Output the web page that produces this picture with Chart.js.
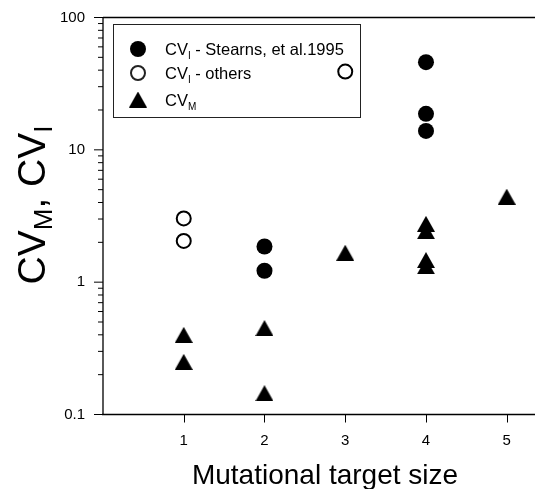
<!DOCTYPE html>
<html><head><meta charset="utf-8">
<script src="https://cdn.jsdelivr.net/npm/chart.js@4.4.1/dist/chart.umd.min.js"></script>
<style>html,body{margin:0;padding:0;background:#fff;overflow:hidden}#wrap{width:535px;height:489px;position:relative}</style>
</head><body><div id="wrap"><canvas id="c" width="535" height="489"></canvas></div>
<script>
// ---- data ----
const xTickValues = [1, 2, 3, 4, 5];
const yTickValues = [0.1, 1, 10, 100];
const stearnsX = [2, 2, 4, 4, 4];
const stearnsY = [1.86, 1.22, 46, 18.7, 13.9];
const othersX = [1, 1, 3];
const othersY = [3.03, 2.05, 39];
const cvmX = [1, 1, 2, 2, 3, 4, 4, 4, 4, 5];
const cvmY = [0.40, 0.25, 0.45, 0.145, 1.67, 2.76, 2.43, 1.47, 1.32, 4.43];
const legendLabels = [
  {main: 'CV', sub: 'I', rest: ' - Stearns, et al.1995'},
  {main: 'CV', sub: 'I', rest: ' - others'},
  {main: 'CV', sub: 'M', rest: ''}
];
const xTitle = 'Mutational target size';
const yTitleParts = [{t: 'CV', sub: false}, {t: 'M', sub: true}, {t: ', CV', sub: false}, {t: 'I', sub: true}];

const FONT = '"Liberation Sans", Arial, Helvetica, sans-serif';
Chart.defaults.font.family = FONT;

function toPoints(xs, ys) { return xs.map((x, i) => ({x: x, y: ys[i]})); }

// triangle marker
const tri = document.createElement('canvas');
tri.width = 18; tri.height = 16;
(function () {
  const c = tri.getContext('2d');
  c.fillStyle = '#000';
  c.beginPath(); c.moveTo(0, 16); c.lineTo(9, 0); c.lineTo(18, 16); c.closePath(); c.fill();
})();

function drawSubText(ctx, parts, x, y, big, small, drop) {
  let cx = x;
  parts.forEach(p => {
    ctx.font = (p.sub ? small : big) + 'px ' + FONT;
    ctx.fillText(p.t, cx, y + (p.sub ? drop : 0));
    cx += ctx.measureText(p.t).width;
  });
  return cx - x;
}
function measureSubText(ctx, parts, big, small) {
  let w = 0;
  parts.forEach(p => { ctx.font = (p.sub ? small : big) + 'px ' + FONT; w += ctx.measureText(p.t).width; });
  return w;
}

const decor = {
  id: 'decor',
  beforeDatasetsDraw(chart) {
    const ctx = chart.ctx, a = chart.chartArea;
    const xs = chart.scales.x, ys = chart.scales.y;
    ctx.save();
    // legend box
    const L = {l: 113.5, t: 24.5, r: 360.5, b: 117.5};
    ctx.fillStyle = '#fff';
    ctx.fillRect(L.l, L.t, L.r - L.l, L.b - L.t);
    ctx.strokeStyle = '#222'; ctx.lineWidth = 1;
    ctx.strokeRect(L.l, L.t, L.r - L.l, L.b - L.t);
    const rows = [49, 73, 99.5];
    ctx.fillStyle = '#000';
    ctx.beginPath(); ctx.arc(138, rows[0], 8, 0, Math.PI * 2); ctx.fill();
    ctx.beginPath(); ctx.arc(138, rows[1], 7, 0, Math.PI * 2); ctx.lineWidth = 2; ctx.stroke();
    ctx.drawImage(tri, 138 - 9, rows[2] - 8);
    ctx.textBaseline = 'alphabetic'; ctx.textAlign = 'left';
    legendLabels.forEach((lab, i) => {
      const base = rows[i] + 6;
      drawSubText(ctx, [{t: lab.main}, {t: lab.sub, sub: true}, {t: lab.rest}], 165, base, 16.5, 10, 4);
    });
    // axes lines
    ctx.strokeStyle = '#000'; ctx.lineWidth = 1.3;
    ctx.beginPath();
    ctx.moveTo(a.left, a.top); ctx.lineTo(a.right, a.top);
    ctx.moveTo(a.left, a.top); ctx.lineTo(a.left, a.bottom);
    ctx.moveTo(a.left - 1, a.bottom); ctx.lineTo(a.right, a.bottom);
    ctx.stroke();
    // ticks
    ctx.lineWidth = 1;
    ctx.beginPath();
    for (let d = -1; d <= 2; d++) {
      const p = Math.pow(10, d);
      const py = ys.getPixelForValue(p);
      ctx.moveTo(a.left - 9, py); ctx.lineTo(a.left, py);
      if (d < 2) {
        for (let m = 2; m <= 9; m++) {
          const my = ys.getPixelForValue(m * p);
          ctx.moveTo(a.left - 5, my); ctx.lineTo(a.left, my);
        }
      }
    }
    xTickValues.forEach(v => {
      const px = Math.round(xs.getPixelForValue(v)) + 0.5;
      ctx.moveTo(px, a.bottom); ctx.lineTo(px, a.bottom + 8);
    });
    ctx.stroke();
    ctx.restore();
  },
  afterDraw(chart) {
    const ctx = chart.ctx;
    ctx.save();
    ctx.fillStyle = '#000';
    ctx.textBaseline = 'alphabetic';
    ctx.textAlign = 'center';
    ctx.font = '28px ' + FONT;
    ctx.fillText(xTitle, 325, 484);
    // y title rotated
    ctx.translate(45, 205);
    ctx.rotate(-Math.PI / 2);
    ctx.textAlign = 'left';
    const big = 39, small = 26;
    const w = measureSubText(ctx, yTitleParts, big, small);
    drawSubText(ctx, yTitleParts, -w / 2, 0, big, small, 7);
    ctx.restore();
  }
};

new Chart(document.getElementById('c'), {
  type: 'scatter',
  data: {
    datasets: [
      {label: 'CVI - Stearns, et al.1995', data: toPoints(stearnsX, stearnsY), pointStyle: 'circle', pointRadius: 8, pointHoverRadius: 8, backgroundColor: '#000', borderColor: '#000', borderWidth: 0},
      {label: 'CVI - others', data: toPoints(othersX, othersY), pointStyle: 'circle', pointRadius: 7, pointHoverRadius: 7, backgroundColor: '#fff', borderColor: '#000', borderWidth: 2},
      {label: 'CVM', data: toPoints(cvmX, cvmY), pointStyle: tri, pointRadius: 9, backgroundColor: '#000', borderColor: '#000'}
    ]
  },
  options: {
    responsive: false,
    animation: false,
    devicePixelRatio: 1,
    layout: {autoPadding: false, padding: {top: 17.5, left: 0, right: 0, bottom: 0}},
    plugins: {legend: {display: false}, tooltip: {enabled: false}},
    scales: {
      x: {
        type: 'linear', min: 0, max: 5.35,
        grid: {display: false, drawTicks: true, tickLength: 15},
        border: {display: false},
        afterBuildTicks(s) { s.ticks = xTickValues.map(v => ({value: v})); },
        afterFit(s) { s.height = 74.5; s.paddingLeft = 0; s.paddingRight = 0; },
        ticks: {color: '#000', font: {size: 15}, padding: 2, autoSkip: false, maxRotation: 0, callback: v => String(v)}
      },
      y: {
        type: 'logarithmic', min: 0.1, max: 100,
        grid: {display: false, drawTicks: true, tickLength: 15},
        border: {display: false},
        afterBuildTicks(s) { s.ticks = yTickValues.map(v => ({value: v})); },
        afterFit(s) { s.width = 103; s.paddingTop = 0; s.paddingBottom = 0; },
        ticks: {color: '#000', font: {size: 15}, padding: 3, autoSkip: false, callback: v => String(v)}
      }
    }
  },
  plugins: [decor]
});
</script>
</body></html>
